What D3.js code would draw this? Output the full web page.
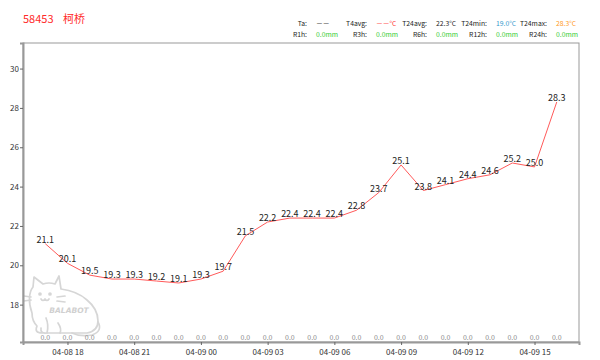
<!DOCTYPE html>
<html>
<head>
<meta charset="utf-8">
<script src="https://cdn.jsdelivr.net/npm/d3@7"></script>
<style>
  body { margin: 0; background: #fff; }
  svg { display: block; font-family: "Noto Sans CJK SC", "DejaVu Sans", sans-serif; }
</style>
</head>
<body>
<div id="chart"></div>
<script>
// station + hourly data
var station = "58453";
var stationName = "柯桥";
var times = ["2023-04-08 17:00", "2023-04-08 18:00", "2023-04-08 19:00", "2023-04-08 20:00",
  "2023-04-08 21:00", "2023-04-08 22:00", "2023-04-08 23:00", "2023-04-09 00:00",
  "2023-04-09 01:00", "2023-04-09 02:00", "2023-04-09 03:00", "2023-04-09 04:00",
  "2023-04-09 05:00", "2023-04-09 06:00", "2023-04-09 07:00", "2023-04-09 08:00",
  "2023-04-09 09:00", "2023-04-09 10:00", "2023-04-09 11:00", "2023-04-09 12:00",
  "2023-04-09 13:00", "2023-04-09 14:00", "2023-04-09 15:00", "2023-04-09 16:00"];
var temps = [21.1, 20.1, 19.5, 19.3, 19.3, 19.2, 19.1, 19.3, 19.7, 21.5, 22.2, 22.4,
  22.4, 22.4, 22.8, 23.7, 25.1, 23.8, 24.1, 24.4, 24.6, 25.2, 25.0, 28.3];
var rain = [0.0, 0.0, 0.0, 0.0, 0.0, 0.0, 0.0, 0.0, 0.0, 0.0, 0.0, 0.0,
  0.0, 0.0, 0.0, 0.0, 0.0, 0.0, 0.0, 0.0, 0.0, 0.0, 0.0, 0.0];
var yTicks = [18, 20, 22, 24, 26, 28, 30];

// header stats: label, value, colour
var statRow1 = [["Ta:", "－－", "#222"], ["T4avg:", "－－°C", "#ff3333"], ["T24avg:", "22.3°C", "#222"],
  ["T24min:", "19.0°C", "#3399cc"], ["T24max:", "28.3°C", "#ff9922"]];
var statRow2 = [["R1h:", "0.0mm", "#33cc33"], ["R3h:", "0.0mm", "#33cc33"], ["R6h:", "0.0mm", "#33cc33"],
  ["R12h:", "0.0mm", "#33cc33"], ["R24h:", "0.0mm", "#33cc33"]];

var W = 600, H = 360;
var margin = {top: 43, right: 21, bottom: 18, left: 23};
var parse = d3.timeParse("%Y-%m-%d %H:%M");
var data = times.map(function(t, i) { return {t: parse(t), v: temps[i], r: rain[i]}; });

var svg = d3.select("#chart").append("svg").attr("width", W).attr("height", H);

var x = d3.scaleTime()
  .domain([d3.timeHour.offset(data[0].t, -1), d3.timeHour.offset(data[data.length - 1].t, 1)])
  .range([margin.left, W - margin.right]);
var y = d3.scaleLinear()
  .domain([d3.min(temps) - 3, d3.max(temps) + 3])
  .range([H - margin.bottom, margin.top]);

// title
svg.append("text").attr("x", 23).attr("y", 23).attr("fill", "#ff2a2a")
  .style("font-size", "11px").text(station);
svg.append("text").attr("x", 63).attr("y", 23).attr("fill", "#ff2a2a")
  .style("font-size", "11px").text(stationName);

// stats
[statRow1, statRow2].forEach(function(row, r) {
  row.forEach(function(s, i) {
    var vx = 316 + i * 60, yy = 25.5 + r * 11.5;
    svg.append("text").attr("x", vx - 9).attr("y", yy).attr("text-anchor", "end")
      .attr("fill", "#222").style("font-size", "6.8px").text(s[0]);
    svg.append("text").attr("x", vx).attr("y", yy)
      .attr("fill", s[2]).style("font-size", "6.8px").text(s[1]);
  });
});

// watermark cat
var cat = svg.append("g").attr("fill", "none").attr("stroke", "#d6d6d6")
  .attr("stroke-width", 1.7).attr("stroke-linecap", "round").attr("stroke-linejoin", "round");
cat.append("path").attr("d",
  "M32,313 C28,302 29,292 33,287 L34,277 L43,284 Q49,282 55,284 L59,276 L61,289 " +
  "Q77,291 87,300 Q98,309 98,321 Q98,331 87,333 L47,333 Q40,334 41,328 " +
  "M32,313 Q32,321 37,326 Q34,333 42,333");
cat.append("path").attr("d", "M98,322 Q103,331 92,335 Q80,337 72,333");
cat.append("path").attr("d", "M46,318 Q49,325 47,333 M58,323 Q62,329 60,333");
cat.append("path").attr("d", "M24,296 L31,297 M24,301 L31,300 M57,297 L65,296 M57,301 L65,302");
cat.append("path").attr("d", "M41,299 Q43,302 45,299 Q47,302 49,299");
cat.append("circle").attr("cx", 40).attr("cy", 294).attr("r", 1).attr("fill", "#d6d6d6");
cat.append("circle").attr("cx", 50).attr("cy", 294).attr("r", 1).attr("fill", "#d6d6d6");
svg.append("text").attr("x", 69).attr("y", 313).attr("text-anchor", "middle")
  .attr("fill", "#d0d0d0").style("font-size", "7.5px").style("font-style", "italic")
  .style("font-weight", "bold").style("font-family", "DejaVu Sans")
  .text("BALABOT");

// frame
svg.append("rect").attr("x", margin.left).attr("y", margin.top)
  .attr("width", W - margin.left - margin.right).attr("height", H - margin.top - margin.bottom)
  .attr("fill", "none").attr("stroke", "#999").attr("stroke-width", 1);

// axes
var yAxis = d3.axisLeft(y).tickValues(yTicks).tickSize(3).tickFormat(d3.format("d"));
var gy = svg.append("g").attr("transform", "translate(" + margin.left + ",0)").call(yAxis);
gy.select(".domain").attr("stroke", "#999").attr("stroke-width", 2);
gy.selectAll(".tick line").attr("stroke", "#666");
gy.selectAll("text").attr("fill", "#333").style("font-size", "8px")
  .style("font-family", "Noto Sans CJK SC").attr("x", -4);

var xAxis = d3.axisBottom(x).ticks(d3.timeHour.every(3)).tickSize(3)
  .tickFormat(d3.timeFormat("%m-%d %H"));
var gx = svg.append("g").attr("transform", "translate(0," + (H - margin.bottom) + ")").call(xAxis);
gx.select(".domain").attr("stroke", "#999").attr("stroke-width", 2);
gx.selectAll(".tick line").attr("stroke", "#666");
gx.selectAll("text").attr("fill", "#333").style("font-size", "8px")
  .style("font-family", "Noto Sans CJK SC").attr("dy", "0.9em");

// temperature line
var line = d3.line().x(function(d) { return x(d.t); }).y(function(d) { return y(d.v); });
svg.append("path").datum(data).attr("d", line)
  .attr("fill", "none").attr("stroke", "#ff5a5a").attr("stroke-width", 1);

svg.append("g").selectAll("text").data(data).join("text")
  .attr("x", function(d) { return x(d.t); })
  .attr("y", function(d) { return y(d.v) - 1; })
  .attr("text-anchor", "middle").attr("fill", "#222").style("font-size", "9px")
  .text(function(d) { return d.v.toFixed(1); });

// rainfall labels
svg.append("g").selectAll("text").data(data).join("text")
  .attr("x", function(d) { return x(d.t); })
  .attr("y", H - margin.bottom - 2)
  .attr("text-anchor", "middle").attr("fill", "#888").style("font-size", "7px")
  .text(function(d) { return d.r.toFixed(1); });
</script>
</body>
</html>
